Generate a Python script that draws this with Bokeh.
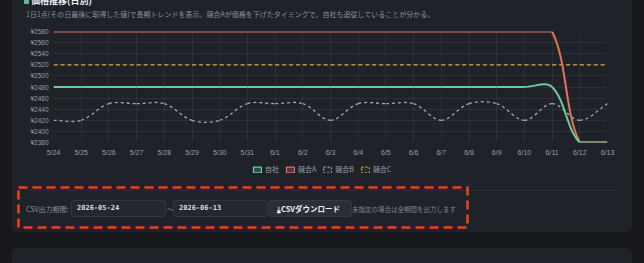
import math
from bokeh.plotting import figure
from bokeh.layouts import column
from bokeh.models import (Range1d, FixedTicker, PrintfTickFormatter, Legend,
                          LegendItem, Div)
from bokeh.embed import file_html
from bokeh.resources import INLINE

# ---------------- data ----------------
dates = ["5/24", "5/25", "5/26", "5/27", "5/28", "5/29", "5/30", "5/31",
         "6/1", "6/2", "6/3", "6/4", "6/5", "6/6", "6/7", "6/8", "6/9",
         "6/10", "6/11", "6/12", "6/13"]
own = [2480, 2480, 2480, 2480, 2480, 2480, 2480, 2480, 2480, 2480, 2480,
       2480, 2480, 2480, 2480, 2480, 2480, 2480, 2480, 2380, 2380]
comp_a = [2580, 2580, 2580, 2580, 2580, 2580, 2580, 2580, 2580, 2580, 2580,
          2580, 2580, 2580, 2580, 2580, 2580, 2580, 2580, 2380, 2380]
comp_b = [2420, 2420, 2450, 2450, 2450, 2420, 2420, 2450, 2450, 2450, 2420,
          2450, 2450, 2450, 2420, 2450, 2450, 2420, 2450, 2420, 2450]
comp_c = [2520, 2520, 2520, 2520, 2520, 2520, 2520, 2520, 2520, 2520, 2520,
          2520, 2520, 2520, 2520, 2520, 2520, 2520, 2520, 2520, 2520]
y_ticks = [2380, 2400, 2420, 2440, 2460, 2480, 2500, 2520, 2540, 2560, 2580]
series_names = ["自社", "競合A", "競合B", "競合C"]

title_text = "価格推移(日別)"
subtitle_text = "1日1点(その日最後に取得した値)で長期トレンドを表示。競合Aが価格を下げたタイミングで、自社も追従していることが分かる。"
csv_label = "CSV出力期間:"
csv_from = "2026-05-24"
csv_to = "2026-06-13"
csv_button = "⤓CSVダウンロード"
csv_note = "未指定の場合は全期間を出力します"

# ---------------- layout constants ----------------
W, H = 644, 263
CARD_X, CARD_W = 12, 620
HEAD_H = 20
FIG_H = 140
LEG_H = 20
CSV_H = 232 - HEAD_H - FIG_H - LEG_H
FL, FR, FT, FB = 53, 607, 31, 142   # frame edges in page px
CARD = "#1f2228"
PAGE = "#16181c"
JP = "Noto Sans CJK JP"

xs = list(range(len(dates)))
ymin, ymax = y_ticks[0], y_ticks[-1]
kx = (FR - FL) / (len(dates) - 1)
ky = (FB - FT) / (ymax - ymin)


def spline(xv, yv, t=0.35):
    """Chart.js-like cubic control points (tension), capped to the chart area."""
    n = len(xv)
    prev_cp, next_cp = [], []
    cap = lambda v, lo, hi: min(max(v, lo), hi)
    for i in range(n):
        x0, y0 = xv[max(i - 1, 0)], yv[max(i - 1, 0)]
        x1, y1 = xv[i], yv[i]
        x2, y2 = xv[min(i + 1, n - 1)], yv[min(i + 1, n - 1)]
        d01 = math.hypot((x1 - x0) * kx, (y1 - y0) * ky)
        d12 = math.hypot((x2 - x1) * kx, (y2 - y1) * ky)
        tot = d01 + d12
        s01 = d01 / tot if tot else 0
        s12 = d12 / tot if tot else 0
        fa, fb = t * s01, t * s12
        px, py = x1 - fa * (x2 - x0), y1 - fa * (y2 - y0)
        nx, ny = x1 + fb * (x2 - x0), y1 + fb * (y2 - y0)
        prev_cp.append((cap(px, xv[0], xv[-1]), cap(py, ymin, ymax)))
        next_cp.append((cap(nx, xv[0], xv[-1]), cap(ny, ymin, ymax)))
    return dict(x0=xv[:-1], y0=yv[:-1], x1=xv[1:], y1=yv[1:],
                cx0=[c[0] for c in next_cp[:-1]], cy0=[c[1] for c in next_cp[:-1]],
                cx1=[c[0] for c in prev_cp[1:]], cy1=[c[1] for c in prev_cp[1:]])


# ---------------- main chart ----------------
p = figure(width=CARD_W, height=FIG_H, output_backend="svg", toolbar_location=None,
           x_range=Range1d(0, len(dates) - 1), y_range=Range1d(ymin, ymax),
           min_border_left=FL - CARD_X, min_border_right=CARD_X + CARD_W - FR,
           min_border_top=FT - HEAD_H, min_border_bottom=HEAD_H + FIG_H - FB,
           background_fill_color=CARD, border_fill_color=CARD,
           outline_line_color=None)

p.xaxis.ticker = FixedTicker(ticks=xs)
p.xaxis.major_label_overrides = {i: d for i, d in enumerate(dates)}
p.yaxis.ticker = FixedTicker(ticks=y_ticks)
p.yaxis.formatter = PrintfTickFormatter(format="¥%d")
for ax in (p.xaxis[0], p.yaxis[0]):
    ax.axis_line_color = None
    ax.major_tick_line_color = None
    ax.minor_tick_line_color = None
    ax.major_tick_out = 0
    ax.major_label_text_color = "#9a9fa6"
    ax.major_label_text_font = "Liberation Sans"
    ax.major_label_text_font_size = "7px"
p.xaxis.major_label_standoff = 6
p.yaxis.major_label_standoff = 5
p.yaxis.major_label_text_font_size = "6.5px"
p.xgrid.ticker = FixedTicker(ticks=xs)
p.ygrid.ticker = FixedTicker(ticks=y_ticks)
for g in (p.xgrid[0], p.ygrid[0]):
    g.grid_line_color = "#ffffff"
    g.grid_line_alpha = 0.06

colors = ["#6fcb9b", "#e2725f", "#a3a8b0", "#d1ad4b"]
p.bezier(line_color=colors[3], line_width=1.3, line_dash="4 3", **spline(xs, comp_c))
p.bezier(line_color=colors[2], line_width=1.3, line_dash="3 3", **spline(xs, comp_b))
p.bezier(line_color=colors[1], line_width=2, **spline(xs, comp_a))
p.bezier(line_color=colors[0], line_width=2, **spline(xs, own))

# ---------------- legend strip (its own small figure) ----------------
lg = figure(width=CARD_W, height=LEG_H, output_backend="svg", toolbar_location=None,
            x_range=Range1d(0, 1), y_range=Range1d(0, 1),
            x_axis_type=None, y_axis_type=None,
            min_border=0, min_border_left=0, min_border_right=0,
            min_border_top=0, min_border_bottom=0,
            background_fill_color=CARD, border_fill_color=CARD,
            outline_line_color=None)
lg.xgrid.visible = False
lg.ygrid.visible = False
proxies = []
fills = [0.25, 0.25, 0.05, 0.05]
dashes = ["solid", "solid", "2 2", "2 2"]
for c, fa, dsh in zip(colors, fills, dashes):
    r = lg.quad(left=[-5], right=[-4], top=[-5], bottom=[-4], fill_color=c,
                fill_alpha=fa, line_color=c, line_width=1.3, line_dash=dsh)
    proxies.append(r)
legend = Legend(items=[LegendItem(label=n, renderers=[r]) for n, r in zip(series_names, proxies)],
                orientation="horizontal", location=(252 - FL, 6),
                glyph_width=10, glyph_height=7, label_standoff=3, spacing=6,
                padding=0, margin=0, label_height=8, label_width=0,
                label_text_font=JP, label_text_font_size="7px",
                label_text_color="#9aa0a8",
                background_fill_alpha=0, border_line_alpha=0)
lg.add_layout(legend, "center")

# ---------------- header (title / subtitle) ----------------
head_html = f"""
<div style="position:relative;width:{CARD_W}px;height:{HEAD_H}px;font-family:'{JP}';">
 <div style="position:absolute;left:12px;top:-4px;width:5px;height:8px;background:#5fbf8a;border-radius:1px;"></div>
 <div style="position:absolute;left:19px;top:-5px;font-size:9px;font-weight:bold;color:#eef0f3;line-height:12px;white-space:nowrap;">{title_text}</div>
 <div style="position:absolute;left:14px;top:9px;font-size:7px;color:#8a919b;line-height:10px;white-space:nowrap;">{subtitle_text}</div>
</div>"""
head = Div(text=head_html, width=CARD_W, height=HEAD_H, margin=0)

# ---------------- CSV export row ----------------
inp = ("position:absolute;top:20px;height:17px;box-sizing:border-box;"
       "border:1px solid #32373f;border-radius:3px;background:#24282e;"
       "font-family:'DejaVu Sans Mono';font-weight:bold;font-size:7px;color:#d8dce2;"
       "line-height:15px;padding-left:5px;white-space:nowrap;")
lab = "position:absolute;top:23px;line-height:12px;white-space:nowrap;"
csv_html = f"""
<div style="position:relative;width:{CARD_W}px;height:{CSV_H}px;font-family:'{JP}';">
 <div style="position:absolute;left:14px;top:10px;width:591px;height:1px;background:#2b2f36;"></div>
 <div style="{lab}left:14px;font-size:7px;color:#8a909a;">{csv_label}</div>
 <div style="{inp}left:59px;width:95px;">{csv_from}</div>
 <div style="{lab}left:155px;font-size:7px;color:#8a909a;">〜</div>
 <div style="{inp}left:161px;width:94px;">{csv_to}</div>
 <div style="{inp}left:256px;width:84px;background:#2a2e35;border-color:#343941;font-family:'{JP}';font-size:7.5px;color:#eceef1;padding-left:8px;">{csv_button}</div>
 <div style="{lab}left:340px;font-size:6.5px;color:#7d848e;">{csv_note}</div>
 <svg width="{CARD_W}" height="{CSV_H}" style="position:absolute;left:0;top:0;overflow:visible;">
  <rect x="6.5" y="7.5" width="449" height="40" fill="none" stroke="#e5421d" stroke-width="2.6" stroke-dasharray="9 5"/>
 </svg>
</div>"""
csv = Div(text=csv_html, width=CARD_W, height=CSV_H, margin=0)

card = column(head, p, lg, csv, spacing=0, margin=(0, 0, 0, CARD_X),
              styles={"background-color": CARD, "border-radius": "0 0 6px 6px"})
bottom = Div(text="", width=CARD_W, height=15, margin=(16, 0, 0, CARD_X),
             styles={"background-color": CARD, "border-radius": "6px 6px 0 0"})
page = column(card, bottom, width=W, height=H, spacing=0, margin=0,
              styles={"background-color": PAGE})

open("out.html", "w").write(file_html(page, INLINE))
